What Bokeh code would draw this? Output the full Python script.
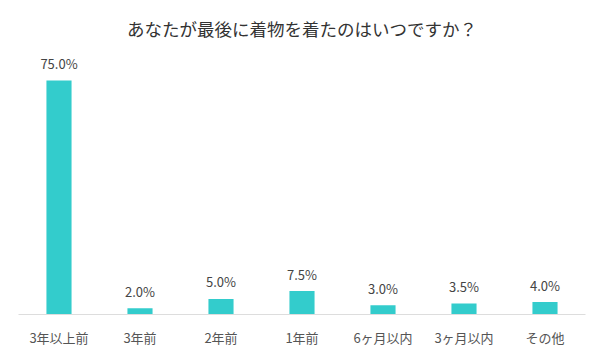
from bokeh.plotting import figure
from bokeh.models import ColumnDataSource, Range1d, FactorRange, Title
from bokeh.core.properties import value
from bokeh.embed import file_html
from bokeh.resources import INLINE

title_text = "あなたが最後に着物を着たのはいつですか？"
categories = ["3年以上前", "3年前", "2年前", "1年前", "6ヶ月以内", "3ヶ月以内", "その他"]
values = [75.0, 2.0, 5.0, 7.5, 3.0, 3.5, 4.0]
labels = [f"{v:.1f}%" for v in values]

FONT = "Noto Sans CJK JP"

src = ColumnDataSource(dict(cat=categories, val=values, lab=labels))

p = figure(width=600, height=360, x_range=FactorRange(*categories, range_padding=0),
           y_range=Range1d(0, 82.05), output_backend="svg", toolbar_location=None,
           min_border_left=18, min_border_right=15, min_border_top=58, min_border_bottom=46)

p.title.text = title_text
p.title.align = "center"
p.title.text_font = FONT
p.title.text_font_size = "17.5px"
p.title.text_font_style = "normal"
p.title.text_color = "#333333"

# invisible spacer between title and plot area
p.add_layout(Title(text=" ", text_font_size="10px", standoff=0), "above")

p.vbar(x="cat", top="val", width=0.31, source=src, color="#33cccc", line_color=None)
p.text(x="cat", y="val", text="lab", source=src, text_align="center", text_baseline="middle",
       y_offset=-17, text_font=value(FONT), text_font_size="13px", text_color="#444444")

p.yaxis.visible = False
p.xgrid.grid_line_color = None
p.ygrid.grid_line_color = None
p.outline_line_color = None
p.xaxis.axis_line_color = "#dddddd"
p.xaxis.major_tick_line_color = None
p.xaxis.minor_tick_line_color = None
p.xaxis.major_tick_out = 0
p.xaxis.major_label_standoff = 13
p.xaxis.major_label_text_font = FONT
p.xaxis.major_label_text_font_size = "13px"
p.xaxis.major_label_text_color = "#555555"

open("out.html", "w").write(file_html(p, INLINE))
